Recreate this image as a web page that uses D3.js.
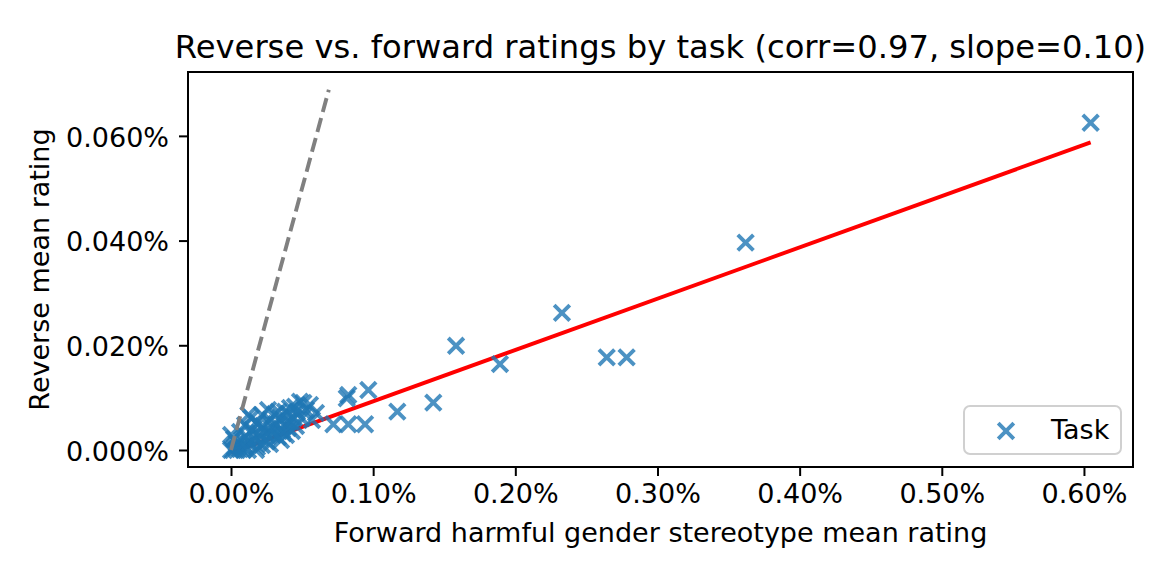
<!DOCTYPE html>
<html>
<head>
<meta charset="utf-8">
<script src="https://cdn.jsdelivr.net/npm/d3@7"></script>
<style>
  body { margin: 0; background: #fff; }
  svg { display: block; font-family: "DejaVu Sans", sans-serif; }
</style>
</head>
<body>
<svg id="chart"></svg>
<script>
// forward (x) and reverse (y) mean ratings per task, as fractions
const forwardRating = [
  0.006047, 0.00362, 0.002328, 0.001583, 0.001892, 0.002643, 0.002783, 0.001423,
  0.00117, 0.000966, 0.000825, 0.000814, 0.00072, 0.000825, 0.000943,
  0.000485, 0.00045, 0.000497, 0.00038, 0.000368, 0.000403, 0.000509, 0.000415,
  0.000333, 0.000286, 0.000251, 0.000122, 0.000181, 0.0000865, 0.0, 0.0,
  0.00004, 0.000157,
  0.0000281, 0.0000492, 0.0000633, 0.0000774, 0.0000985, 0.0001125, 0.0001336, 0.0001477,
  0.0001688, 0.0001829, 0.0001969, 0.000211, 0.0002251, 0.0002391, 0.0002603, 0.0002743,
  0.0002884, 0.0003025, 0.0003165, 0.0003306, 0.0003447, 0.0003587, 0.0003728, 0.0003869,
  0.0004009, 0.000415, 0.0004291, 0.0004431, 0.0004572, 0.0000985, 0.0001407, 0.000218,
  0.0002603, 0.0003095, 0.0001899, 0.0000633, 0.0000211, 0.0000141, 0.0000422, 0.0001196,
  0.0001758, 0.000218, 0.0002743, 0.0003517, 0.000408, 0.0004642, 0.0005275, 0.0005557,
  0.0005979, 0.0005697
];
const reverseRating = [
  0.000625, 0.000396, 0.000262, 0.000199, 0.000164, 0.000177, 0.000177, 0.0000904,
  0.0000732, 0.0001146, 0.0001051, 0.0000988, 0.0000491, 0.0000491, 0.0000491,
  0.0000923, 0.0000827, 0.0000606, 0.0000732, 0.0000319, 0.000054, 0.0000898, 0.0000802,
  0.0000732, 0.0000415, 0.0000159, 0.0000669, 0.000054, 0.000001, 0.0, 0.0000287,
  0.0000128, 0.0000287,
  0.0000057, 0.0000115, 0.0000019, 0.0000191, 0.0000076, 0.0000248, 0.0000134, 0.0000382,
  0.0000191, 0.0000057, 0.0000325, 0.0000229, 0.0000458, 0.0000344, 0.0000267, 0.0000573,
  0.0000306, 0.000042, 0.0000497, 0.0000248, 0.0000611, 0.0000382, 0.0000478, 0.0000287,
  0.000042, 0.0000535, 0.0000363, 0.0000611, 0.0000458, 0.0000478, 0.0000611, 0.0000669,
  0.0000764, 0.0000688, 0.0000497, 0.0000344, 0.000021, 0.0, 0.0, 0.0,
  0.0, 0.0000096, 0.0000115, 0.0000191, 0.0000688, 0.0000726, 0.0000764, 0.000086,
  0.0000707, 0.0000573
];
const xTicks = [0, 0.001, 0.002, 0.003, 0.004, 0.005, 0.006];
const yTicks = [0, 0.0002, 0.0004, 0.0006];
const fitSlope = 0.098;
const fitIntercept = -0.000005;
const diagMax = 0.000688;

const width = 1163, height = 581;
const margin = {top: 72, right: 30, bottom: 114, left: 188};

const svg = d3.select("#chart")
    .attr("width", width)
    .attr("height", height);

svg.append("rect").attr("width", width).attr("height", height).attr("fill", "#fff");

const x = d3.scaleLinear()
    .domain([-0.0003025, 0.006345])
    .range([margin.left, width - margin.right]);
const y = d3.scaleLinear()
    .domain([-0.0000325, 0.000722])
    .range([height - margin.bottom, margin.top]);

const points = forwardRating.map((f, i) => ({f: f, r: reverseRating[i]}));

// fitted line (drawn under the markers)
const xMin = d3.min(forwardRating), xMax = d3.max(forwardRating);
svg.append("line")
    .attr("x1", x(xMin)).attr("y1", y(fitIntercept + fitSlope * xMin))
    .attr("x2", x(xMax)).attr("y2", y(fitIntercept + fitSlope * xMax))
    .attr("stroke", "red")
    .attr("stroke-width", 3.9);

const ms = 7.8;
function cross(g) {
    g.append("path")
        .attr("d", `M${-ms},${-ms}L${ms},${ms}M${-ms},${ms}L${ms},${-ms}`)
        .attr("stroke", "#1f77b4")
        .attr("stroke-opacity", 0.8)
        .attr("stroke-width", 3.9)
        .attr("fill", "none");
}

svg.append("g")
    .selectAll("g")
    .data(points)
    .join("g")
    .attr("transform", d => `translate(${x(d.f)},${y(d.r)})`)
    .call(cross);

// y = x reference
svg.append("line")
    .attr("x1", x(0)).attr("y1", y(0))
    .attr("x2", x(diagMax)).attr("y2", y(diagMax))
    .attr("stroke", "gray")
    .attr("stroke-width", 3.9)
    .attr("stroke-dasharray", "14.4,6.2");

// axes
const xAxis = svg.append("g")
    .attr("transform", `translate(0,${height - margin.bottom})`)
    .call(d3.axisBottom(x).tickValues(xTicks).tickFormat(d3.format(".2%")).tickSize(9).tickPadding(8).tickSizeOuter(0));
const yAxis = svg.append("g")
    .attr("transform", `translate(${margin.left},0)`)
    .call(d3.axisLeft(y).tickValues(yTicks).tickFormat(d3.format(".3%")).tickSize(9).tickPadding(10).tickSizeOuter(0));

[xAxis, yAxis].forEach(a => {
    a.select(".domain").remove();
    a.selectAll(".tick line").attr("stroke", "#000").attr("stroke-width", 2);
    a.selectAll(".tick text").attr("fill", "#000").style("font-size", "27px").style("font-family", "DejaVu Sans");
});
yAxis.selectAll(".tick text").attr("dy", "0.38em");

// frame
svg.append("rect")
    .attr("x", margin.left).attr("y", margin.top)
    .attr("width", width - margin.left - margin.right)
    .attr("height", height - margin.top - margin.bottom)
    .attr("fill", "none")
    .attr("stroke", "#000")
    .attr("stroke-width", 2);

// labels
svg.append("text")
    .attr("x", (margin.left + width - margin.right) / 2)
    .attr("y", 58)
    .attr("text-anchor", "middle")
    .style("font-size", "32.2px")
    .text("Reverse vs. forward ratings by task (corr=0.97, slope=0.10)");

svg.append("text")
    .attr("x", (margin.left + width - margin.right) / 2)
    .attr("y", 542)
    .attr("text-anchor", "middle")
    .style("font-size", "27px")
    .text("Forward harmful gender stereotype mean rating");

svg.append("text")
    .attr("transform", `translate(49,${(margin.top + height - margin.bottom) / 2}) rotate(-90)`)
    .attr("text-anchor", "middle")
    .style("font-size", "27px")
    .text("Reverse mean rating");

// legend
const lg = svg.append("g");
lg.append("rect")
    .attr("x", 964).attr("y", 406)
    .attr("width", 157).attr("height", 48)
    .attr("rx", 6)
    .attr("fill", "#fff").attr("fill-opacity", 0.8)
    .attr("stroke", "#d0d0d0").attr("stroke-width", 2);
lg.append("g").attr("transform", "translate(1006,431)").call(cross);
lg.append("text")
    .attr("x", 1051).attr("y", 439)
    .style("font-size", "27px")
    .text("Task");
</script>
</body>
</html>
